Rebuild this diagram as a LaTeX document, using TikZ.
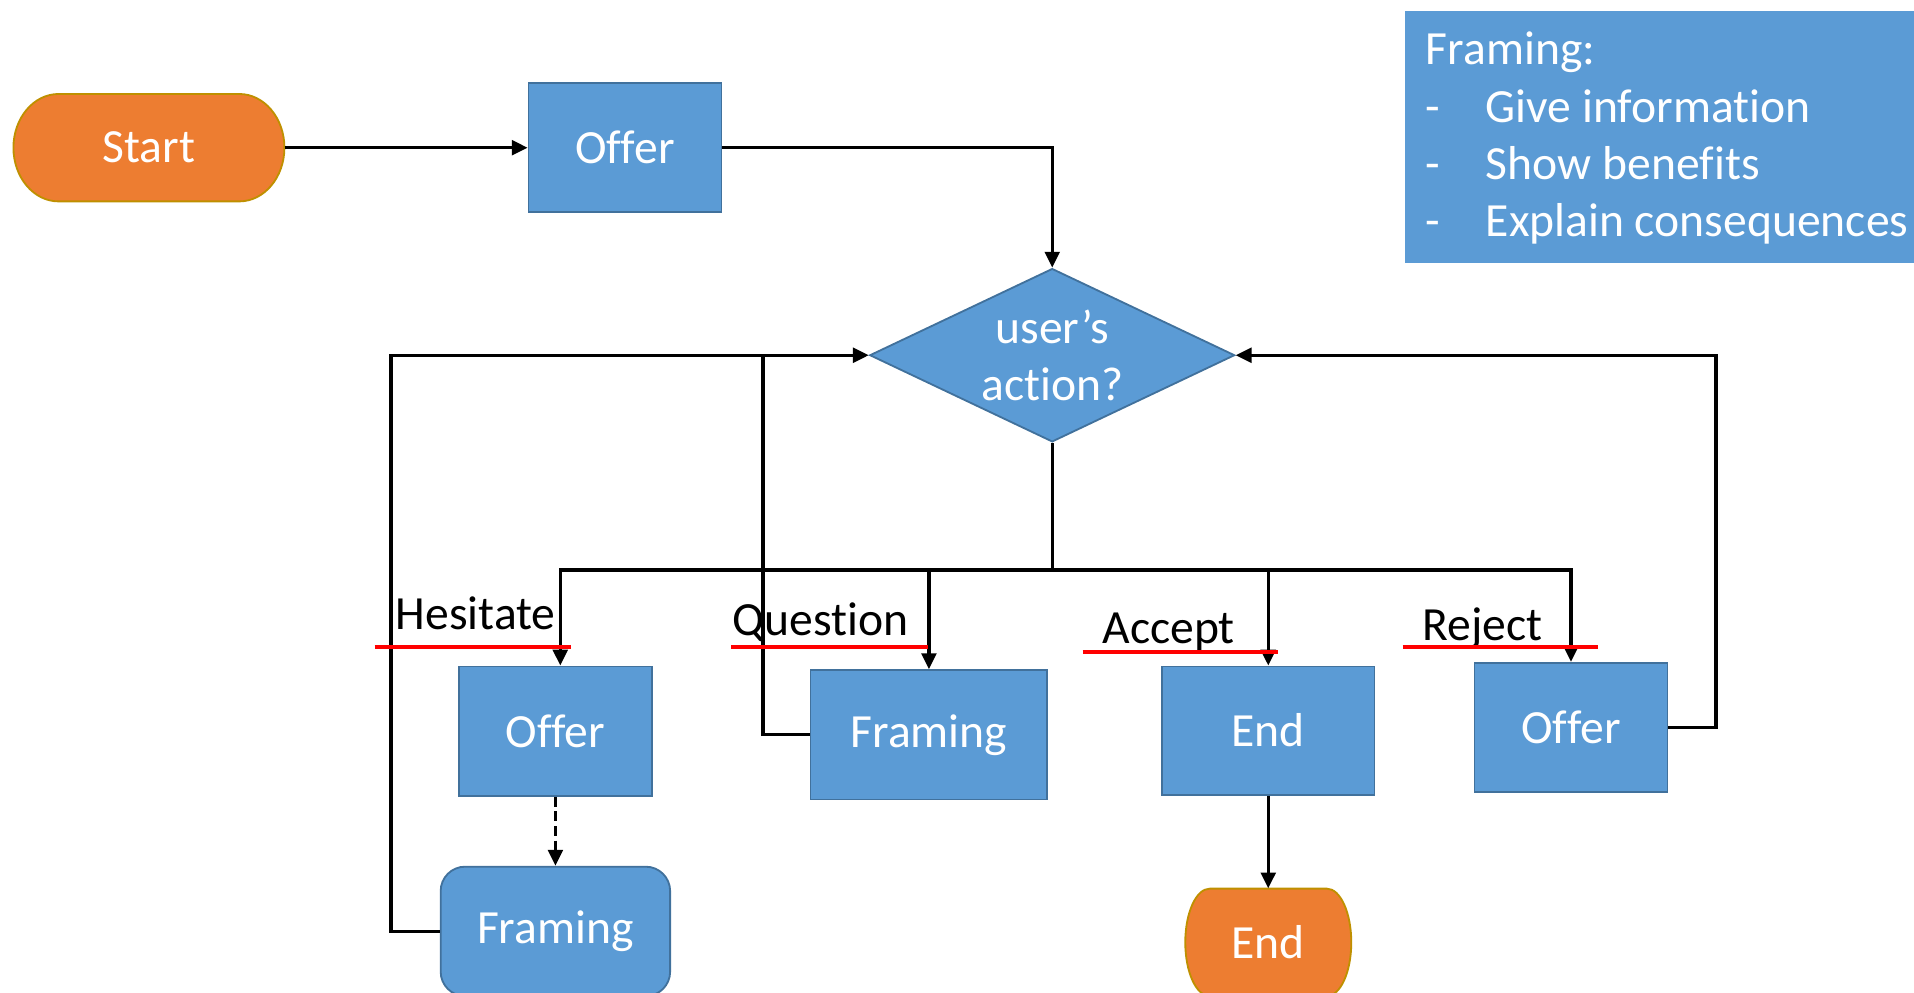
\documentclass[tikz,border=0pt]{standalone}
\usepackage{fontspec}
\setmainfont{Carlito}[Ligatures={NoCommon,NoRequired,NoContextual,NoRare}]
\usetikzlibrary{shapes.geometric,arrows.meta}
\definecolor{boxblue}{HTML}{5B9BD5}
\definecolor{boxedge}{HTML}{41719C}
\definecolor{termorange}{HTML}{ED7D31}
\definecolor{termedge}{HTML}{BF9000}
\definecolor{markred}{HTML}{FF0000}
\begin{document}
\begin{tikzpicture}[x=1pt,y=-1pt,
  txt/.style={font=\fontsize{39}{47}\selectfont},
  box/.style={txt, rectangle, fill=boxblue, draw=boxedge, line width=1.5pt,
    text=white, inner sep=0pt},
  termtext/.style={txt, rectangle, inner sep=0pt, text=white},
  term/.style={fill=termorange, draw=termedge, line width=1.5pt},
  decision/.style={txt, diamond, fill=boxblue, draw=boxedge, line width=1.5pt,
    text=white, inner sep=0pt, align=center, aspect=2.1},
  infobox/.style={rectangle, fill=boxblue, inner sep=0pt},
  infotext/.style={txt, anchor=base west, inner sep=0pt, text=white},
  actlabel/.style={txt, anchor=base west, inner sep=0pt, text=black},
  conn/.style={line width=2.7pt, black},
  arr/.style={conn, -{Triangle[length=13pt,width=12pt]}},
  redline/.style={line width=2.8pt, markred},
]
\clip (0,0) rectangle (1568,813);

% terminal outlines (flat top and bottom, elliptic sides)
\path[term] (48,77) -- (196,77)
  arc[start angle=90, end angle=-90, x radius=37pt, y radius=44pt]
  -- (48,165)
  arc[start angle=270, end angle=90, x radius=37pt, y radius=44pt] -- cycle;
\path[term] (991,728) -- (1087,728)
  arc[start angle=90, end angle=-90, x radius=20pt, y radius=44pt]
  -- (991,816)
  arc[start angle=270, end angle=90, x radius=20pt, y radius=44pt] -- cycle;

% nodes
\node[termtext, minimum width=222pt, minimum height=88pt] (start) at (122,121) {Start};
\node[box, minimum width=158pt, minimum height=106pt] (offer1) at (512,121) {Offer};
\node[decision, minimum width=299pt, minimum height=142pt] (dia) at (862,291) {user’s\\ac\kern0pt tion?};
\node[box, minimum width=158pt, minimum height=106pt] (offer2) at (455,599) {Offer};
\node[box, minimum width=194pt, minimum height=106pt] (fr2) at (761,602) {Framing};
\node[box, minimum width=174pt, minimum height=105pt] (end1) at (1039,598.5) {End};
\node[box, minimum width=158pt, minimum height=106pt] (offer3) at (1287,596) {Offer};
\node[box, rounded corners=20pt, minimum width=188pt, minimum height=106pt] (fr3) at (455,763) {Framing};
\node[termtext, minimum width=136pt, minimum height=88pt] (end2) at (1039,772) {End};

% framing notes
\node[infobox, anchor=north west, minimum width=429pt, minimum height=206pt] (info) at (1151,9) {};
\node[infotext] (info1) at (1168,53) {Framing:};
\node[infotext] (info2) at (1168,100) {\makebox[49pt][l]{-}Give informa\kern0pt tion};
\node[infotext] (info3) at (1168,147) {\makebox[49pt][l]{-}Show bene\kern0pt fits};
\node[infotext] (info4) at (1168,194) {\makebox[49pt][l]{-}Explain consequences};

% connectors
\draw[arr] (start.east) -- (offer1.west);
\draw[arr] (offer1.east) -| (dia.north);
\coordinate (bus) at (862,467);
\draw[conn] (dia.south) -- (bus);
\draw[arr] (bus) -| ([xshift=4pt]offer2.north);
\draw[arr] (bus) -| (fr2.north);
\draw[arr] (bus) -| (end1.north);
\draw[arr] (bus) -| (offer3.north);
\draw[arr, dash pattern=on 8pt off 4pt] (offer2.south) -- (fr3.north);
\draw[arr] (fr3.west) -- ++(-40,0) |- (dia.west);
\coordinate (qjoin) at (625,291);
\draw[conn] (fr2.west) -| (qjoin);
\draw[arr] (offer3.east) -- ++(39,0) |- (dia.east);
\draw[arr] (end1.south) -- (end2.north);

% action labels with red underlines
\node[actlabel] (lhes) at (324,516) {Hesitate};
\node[actlabel] (lque) at (600,521) {Question};
\node[actlabel] (lacc) at (903,527) {Accept};
\node[actlabel] (lrej) at (1165,525) {Reject};
\draw[redline] (307,530) -- (468,530);
\draw[redline] (599,530) -- (760,530);
\draw[redline] (887,534) -- (1047,534);
\draw[redline] (1149,530) -- (1309,530);
\end{tikzpicture}
\end{document}
